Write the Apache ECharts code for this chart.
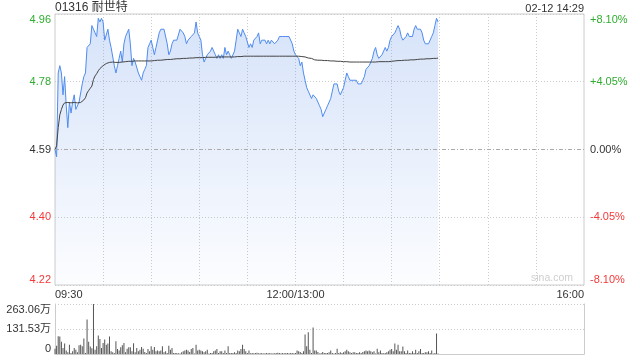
<!DOCTYPE html>
<html>
<head>
<meta charset="utf-8">
<script src="https://cdn.jsdelivr.net/npm/echarts@6/dist/echarts.min.js"></script>
<style>
html,body{margin:0;padding:0;background:#fff;}
#c{width:640px;height:360px;}
</style>
</head>
<body>
<div id="c"></div>
<script>
var titleText = '01316 耐世特';
var dateText = '02-12 14:29';
var prevClose = 4.59;
var priceTicks = ['4.22', '4.40', '4.59', '4.78', '4.96'];
var pctTicks = ['-8.10%', '-4.05%', '0.00%', '+4.05%', '+8.10%'];
var volTicks = ['0', '131.53万', '263.06万'];
var xTickLabels = {0: '09:30', 150: '12:00/13:00', 330: '16:00'};

var prices = [
4.59,4.57,4.80,4.82,4.80,4.74,4.79,4.71,4.65,4.72,
4.69,4.72,4.74,4.70,4.70,4.72,4.72,4.77,4.79,4.80,
4.87,4.87,4.88,4.93,4.92,4.91,4.90,4.95,4.94,4.95,
4.94,4.89,4.89,4.92,4.89,4.87,4.87,4.82,4.80,4.82,
4.84,4.86,4.83,4.88,4.90,4.91,4.92,4.88,4.82,4.84,
4.83,4.83,4.80,4.79,4.78,4.80,4.81,4.82,4.87,4.88,
4.89,4.87,4.85,4.87,4.89,4.91,4.92,4.92,4.92,4.92,
4.88,4.85,4.86,4.88,4.89,4.89,4.89,4.89,4.92,4.92,
4.91,4.90,4.88,4.89,4.89,4.90,4.90,4.91,4.94,4.91,
4.90,4.89,4.85,4.83,4.83,4.85,4.85,4.86,4.87,4.86,
4.85,4.84,4.85,4.84,4.85,4.84,4.87,4.85,4.86,4.85,
4.84,4.84,4.86,4.89,4.92,4.91,4.90,4.92,4.91,4.90,
4.90,4.87,4.88,4.87,4.89,4.89,4.90,4.91,4.88,4.89,
4.89,4.89,4.88,4.89,4.88,4.89,4.89,4.88,4.88,4.89,
4.90,4.90,4.90,4.90,4.90,4.90,4.90,4.90,4.88,4.86,
4.85,4.85,4.84,4.82,4.83,4.80,4.78,4.76,4.75,4.75,
4.73,4.74,4.74,4.73,4.72,4.71,4.70,4.68,4.68,4.70,
4.71,4.72,4.73,4.75,4.77,4.77,4.77,4.75,4.74,4.74,
4.76,4.78,4.80,4.79,4.78,4.78,4.78,4.78,4.78,4.77,
4.77,4.77,4.78,4.79,4.81,4.81,4.82,4.83,4.84,4.86,
4.87,4.85,4.84,4.84,4.85,4.86,4.87,4.86,4.87,4.89,
4.90,4.90,4.91,4.92,4.93,4.92,4.90,4.89,4.89,4.90,
4.91,4.90,4.90,4.90,4.92,4.93,4.92,4.92,4.92,4.91,
4.89,4.88,4.88,4.88,4.88,4.90,4.91,4.93,4.95,4.94
];

var avgPrices = [
4.590,4.600,4.650,4.685,4.700,4.712,4.718,4.720,4.719,4.719,
4.718,4.718,4.719,4.718,4.718,4.718,4.719,4.722,4.726,4.732,
4.745,4.752,4.758,4.764,4.782,4.792,4.798,4.806,4.812,4.816,
4.820,4.823,4.826,4.828,4.829,4.830,4.830,4.830,4.829,4.829,
4.829,4.830,4.830,4.831,4.831,4.831,4.832,4.832,4.832,4.832,
4.833,4.833,4.833,4.833,4.833,4.833,4.833,4.833,4.833,4.833,
4.833,4.833,4.834,4.834,4.835,4.835,4.835,4.836,4.836,4.836,
4.837,4.837,4.837,4.838,4.838,4.838,4.839,4.839,4.839,4.840,
4.840,4.840,4.840,4.841,4.841,4.841,4.841,4.841,4.842,4.842,
4.842,4.842,4.842,4.842,4.843,4.843,4.843,4.843,4.843,4.843,
4.843,4.844,4.844,4.844,4.844,4.844,4.844,4.844,4.844,4.844,
4.844,4.844,4.844,4.845,4.845,4.845,4.845,4.846,4.846,4.846,
4.846,4.846,4.846,4.846,4.846,4.846,4.846,4.846,4.846,4.846,
4.846,4.846,4.846,4.846,4.846,4.846,4.846,4.846,4.846,4.846,
4.846,4.846,4.846,4.846,4.846,4.846,4.846,4.846,4.846,4.846,
4.846,4.846,4.846,4.845,4.845,4.845,4.844,4.843,4.841,4.840,
4.840,4.837,4.836,4.836,4.835,4.835,4.835,4.834,4.834,4.834,
4.834,4.833,4.833,4.833,4.833,4.833,4.832,4.832,4.832,4.831,
4.831,4.831,4.831,4.830,4.830,4.830,4.830,4.830,4.830,4.830,
4.830,4.830,4.830,4.830,4.830,4.830,4.830,4.830,4.830,4.830,
4.830,4.830,4.831,4.831,4.831,4.831,4.831,4.831,4.831,4.832,
4.832,4.833,4.833,4.834,4.834,4.834,4.834,4.835,4.835,4.835,
4.835,4.836,4.836,4.836,4.836,4.837,4.837,4.837,4.838,4.838,
4.838,4.838,4.839,4.839,4.839,4.839,4.840,4.840,4.840,4.841
];

var volumes = [
28,44,94,92,65,32,55,18,9,49,
5,14,32,23,9,46,49,41,81,5,
182,65,39,30,263.06,23,41,97,79,32,
58,76,49,55,92,14,9,5,67,26,
18,35,46,58,9,28,35,35,14,57,
9,32,14,23,37,28,11,5,26,14,
41,23,37,14,19,14,18,41,9,14,
5,44,23,32,5,5,5,4,3,9,
14,19,23,18,11,26,32,3,49,19,
23,18,14,9,14,23,3,5,5,14,
18,26,5,14,14,5,18,5,41,5,
5,5,9,5,19,14,26,49,26,14,
5,18,4,5,4,5,7,4,4,5,
2,4,5,4,5,2,4,4,5,7,
5,4,5,4,5,5,4,5,5,4,
5,18,14,11,5,14,102,41,115,23,
5,140,18,18,11,2,5,11,5,5,
5,9,18,5,3,5,28,5,9,5,
9,14,23,14,9,5,9,9,5,5,
9,5,11,14,18,14,18,14,9,14,
3,28,9,18,5,4,5,9,14,23,
26,14,55,23,49,14,14,39,14,5,
18,5,5,14,5,23,5,14,26,5,
5,9,9,14,5,18,3,5,108,3
];

// time categories: 09:30..12:00, 13:01..16:00
function pad(n){return (n<10?'0':'')+n;}
var times = [];
for (var m = 9*60+30; m <= 12*60; m++) times.push(pad(Math.floor(m/60))+':'+pad(m%60));
for (var m2 = 13*60+1; m2 <= 16*60; m2++) times.push(pad(Math.floor(m2/60))+':'+pad(m2%60));

var FONT = '"Liberation Sans", Arial, "Noto Sans CJK SC", sans-serif';
var GREEN = '#2fad2f', RED = '#f23a3a', DARK = '#333';
var pMin = prevClose * (1 - 0.081), pMax = prevClose * (1 + 0.081);
var pInt = prevClose * 0.0405;

function priceColor(v){
  var d = parseFloat(v) - prevClose;
  if (d > 0.001) return GREEN;
  if (d < -0.001) return RED;
  return DARK;
}
function pctColor(v){
  var d = parseFloat(v);
  if (d > 0.001) return GREEN;
  if (d < -0.001) return RED;
  return DARK;
}
function nearestIdx(val, min, step){ return Math.round((val - min) / step); }

var chart = echarts.init(document.getElementById('c'), null, {renderer: 'canvas'});
chart.setOption({
  animation: false,
  textStyle: {fontFamily: FONT},
  title: [
    {text: titleText, left: 55, top: 2, padding: 0, textStyle: {fontSize: 12, fontWeight: 'normal', color: DARK, fontFamily: FONT}},
    {text: dateText, right: 56, top: 3, padding: 0, textStyle: {fontSize: 11, fontWeight: 'normal', color: DARK, fontFamily: FONT}}
  ],
  graphic: [
    {type: 'text', right: 67, top: 273, silent: true, style: {text: 'sina.com', fill: '#cfcfcf', font: '10.5px ' + FONT}}
  ],
  grid: [
    {left: 55, right: 56, top: 14, height: 271, show: true, borderColor: '#ccc', borderWidth: 1, backgroundColor: '#fff'},
    {left: 55, right: 56, top: 304, height: 50, show: false}
  ],
  xAxis: [
    {
      type: 'category', gridIndex: 0, data: times, boundaryGap: false,
      axisLine: {show: false}, axisTick: {show: false},
      axisLabel: {
        show: true, color: DARK, fontSize: 11, margin: 4, fontFamily: FONT,
        interval: function(i){ return xTickLabels[i] !== undefined; },
        formatter: function(v, i){ return xTickLabels[i] !== undefined ? xTickLabels[i] : ''; },
        alignMinLabel: 'left', alignMaxLabel: 'right',
        showMinLabel: true, showMaxLabel: true
      },
      splitLine: {show: true, interval: function(i){ return i > 0 && i < 330 && i % 30 === 0; },
        lineStyle: {color: '#cccccc', type: [1, 2], width: 1}}
    },
    {
      type: 'category', gridIndex: 1, data: times, boundaryGap: false,
      axisLine: {show: true, lineStyle: {color: '#ccc'}}, axisTick: {show: false},
      axisLabel: {show: false}, splitLine: {show: false}
    }
  ],
  yAxis: [
    {
      type: 'value', gridIndex: 0, min: pMin, max: pMax, interval: pInt, position: 'left',
      axisLine: {show: false}, axisTick: {show: false},
      axisLabel: {
        color: priceColor, fontSize: 11, margin: 4, fontFamily: FONT,
        formatter: function(v){ return priceTicks[nearestIdx(v, pMin, pInt)]; },
        verticalAlignMinLabel: 'bottom', verticalAlignMaxLabel: 'top'
      },
      splitLine: {show: true, lineStyle: {color: '#cccccc', type: [1, 2], width: 1}}
    },
    {
      type: 'value', gridIndex: 0, min: -8.1, max: 8.1, interval: 4.05, position: 'right',
      axisLine: {show: false}, axisTick: {show: false},
      axisLabel: {
        color: pctColor, fontSize: 11, margin: 6, fontFamily: FONT,
        formatter: function(v){ return pctTicks[nearestIdx(v, -8.1, 4.05)]; },
        verticalAlignMinLabel: 'bottom', verticalAlignMaxLabel: 'top'
      },
      splitLine: {show: false}
    },
    {
      type: 'value', gridIndex: 1, min: 0, max: 263.06, interval: 131.53, position: 'left',
      axisLine: {show: true, lineStyle: {color: '#ccc'}}, axisTick: {show: false},
      axisLabel: {
        color: DARK, fontSize: 11, margin: 4, fontFamily: FONT,
        formatter: function(v){ return volTicks[nearestIdx(v, 0, 131.53)]; },
        verticalAlignMinLabel: 'bottom', verticalAlignMaxLabel: 'top'
      },
      splitLine: {show: true, lineStyle: {color: '#cccccc', type: [1, 2], width: 1}}
    },
    {
      type: 'value', gridIndex: 1, min: 0, max: 1, position: 'right',
      axisLine: {show: true, lineStyle: {color: '#ccc'}}, axisTick: {show: false},
      axisLabel: {show: false}, splitLine: {show: false}
    }
  ],
  series: [
    {
      name: 'price', type: 'line', xAxisIndex: 0, yAxisIndex: 0, data: prices,
      symbol: 'none', smooth: false,
      lineStyle: {color: '#4f8cf0', width: 1},
      areaStyle: {origin: 'start', color: new echarts.graphic.LinearGradient(0, 0, 0, 1, [
        {offset: 0, color: 'rgba(110,155,235,0.40)'},
        {offset: 1, color: 'rgba(110,155,235,0.03)'}
      ])},
      markLine: {
        silent: true, symbol: 'none', label: {show: false},
        lineStyle: {color: '#aaaaaa', type: [4, 2, 1, 2], width: 1},
        data: [{yAxis: prevClose}]
      },
      z: 3
    },
    {
      name: 'avg', type: 'line', xAxisIndex: 0, yAxisIndex: 0, data: avgPrices,
      symbol: 'none', lineStyle: {color: '#444', width: 1}, z: 4
    },
    {
      name: 'volume', type: 'bar', xAxisIndex: 1, yAxisIndex: 2, data: volumes,
      barWidth: 1, itemStyle: {color: '#555'}
    }
  ]
});
</script>
</body>
</html>
